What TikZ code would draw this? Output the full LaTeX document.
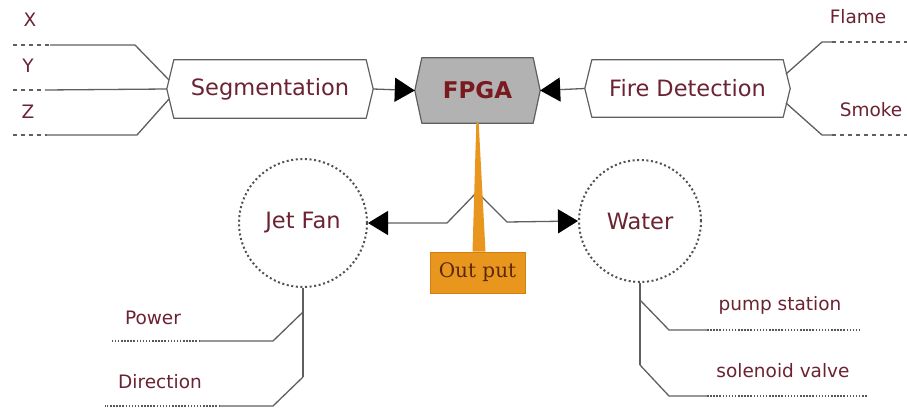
\documentclass[tikz,border=0pt]{standalone}
\usepackage{fontspec}
\setmainfont{DejaVu Sans}
\newfontfamily\outfont{DejaVu Serif}
\usetikzlibrary{arrows.meta}
\definecolor{txt}{HTML}{6B2232}
\definecolor{fpgatxt}{HTML}{7A1A1E}
\definecolor{ln}{HTML}{5F5F5F}
\definecolor{orng}{HTML}{E8961E}
\definecolor{orngd}{HTML}{D0800E}
\definecolor{outtxt}{HTML}{5A2A0A}
\begin{document}
\begin{tikzpicture}[x=1pt,y=-1pt,
  lbl/.style={text=txt,font=\fontsize{18.5}{22}\selectfont,inner sep=0pt},
  big/.style={text=txt,font=\fontsize{22.5}{26}\selectfont,inner sep=0pt},
  hexbox/.style={draw=none,inner sep=0pt},
  hexline/.style={draw=ln,line width=1.2pt,line join=round},
  wire/.style={draw=ln,line width=1.3pt},
  dashwire/.style={draw=ln,line width=1.3pt,dash pattern=on 4pt off 4pt},
  dotwire/.style={draw=ln!90!black,line width=1.5pt,dash pattern=on 1.5pt off 1.6pt},
  circ/.style={circle,draw=ln!85!black,line width=2pt,dash pattern=on 2pt off 2.6pt,inner sep=0pt},
  arr/.style={wire,-{Triangle[length=20pt,width=24pt,black]}}
]
\useasboundingbox (0,0) rectangle (907,410);
% main boxes
\node[hexbox,minimum width=206pt,minimum height=58pt] (seg) at (270,89) {};
\node[hexbox,minimum width=125pt,minimum height=65pt] (fpga) at (477.5,90.5) {};
\node[hexbox,minimum width=205pt,minimum height=57pt] (fire) at (687.5,88.5) {};
\draw[hexline] ([xshift=7pt]seg.north west) -- ([xshift=-7pt]seg.north east) -- (seg.east) -- ([xshift=-7pt]seg.south east) -- ([xshift=7pt]seg.south west) -- (seg.west) -- cycle;
\draw[hexline,fill=black!30] ([xshift=7pt]fpga.north west) -- ([xshift=-7pt]fpga.north east) -- (fpga.east) -- ([xshift=-7pt]fpga.south east) -- ([xshift=7pt]fpga.south west) -- (fpga.west) -- cycle;
\draw[hexline] ([xshift=7pt]fire.north west) -- ([xshift=-7pt]fire.north east) -- (fire.east) -- ([xshift=-7pt]fire.south east) -- ([xshift=7pt]fire.south west) -- (fire.west) -- cycle;
\node[big] at (seg.center) {Segmentation};
\node[big] at (fire.center) {Fire Detection};
\node[text=fpgatxt,font=\fontsize{23}{26}\selectfont\bfseries,inner sep=0pt] at (fpga.center) {FPGA};
% arrows to FPGA
\draw[arr] (seg.east) -- (fpga.west);
\draw[arr] (fire.west) -- (fpga.east);
% inputs left
\node[lbl] (lx) at (30,20) {X};
\node[lbl] (ly) at (28,66) {Y};
\node[lbl] (lz) at (28,112) {Z};
\coordinate (x0) at (13,45); \coordinate (x1) at (50,45); \coordinate (x2) at (135,45); \coordinate (x3) at (169,80);
\coordinate (y0) at (13,90); \coordinate (y1) at (45,90);
\coordinate (z0) at (13,135); \coordinate (z1) at (47,135); \coordinate (z2) at (137,135); \coordinate (z3) at (169,99);
\draw[dashwire] (x0) -- (x1); \draw[wire] (x1) -- (x2) -- (x3);
\draw[dashwire] (y0) -- (y1); \draw[wire] (y1) -- (seg.west);
\draw[dashwire] (z0) -- (z1); \draw[wire] (z1) -- (z2) -- (z3);
% inputs right
\node[lbl] (lf) at (858,17) {Flame};
\node[lbl] (ls) at (871,110) {Smoke};
\coordinate (f0) at (786,74); \coordinate (f1) at (822,42); \coordinate (f2) at (832,42); \coordinate (f3) at (907,42);
\coordinate (s0) at (786,103); \coordinate (s1) at (822,135); \coordinate (s2) at (832,135); \coordinate (s3) at (907,135);
\draw[wire] (f0) -- (f1) -- (f2); \draw[dashwire] (f2) -- (f3);
\draw[wire] (s0) -- (s1) -- (s2); \draw[dashwire] (s2) -- (s3);
% circles
\node[circ,minimum size=128pt] (jet) at (303,223) {};
\node[circ,minimum size=122pt] (water) at (640,221) {};
\node[big] at (jet.center) {Jet Fan};
\node[big] at (water.center) {Water};
% output branches
\coordinate (o0) at (477,192);
\coordinate (ol) at (447,223);
\coordinate (or) at (507,222);
\draw[arr] (o0) -- (ol) -- (jet.east);
\draw[arr] (o0) -- (or) -- (water.west);
% output callout
\node[fill=orng,draw=orngd,line width=0.8pt,minimum width=95pt,minimum height=41pt,inner sep=0pt,text=outtxt,font=\outfont\fontsize{20}{23}\selectfont] (out) at (477.5,272.5) {Out put};
\fill[orng] ([xshift=-1.2pt]fpga.south) -- ([xshift=-5pt]out.north) -- ([xshift=8pt]out.north) -- ([xshift=1.2pt]fpga.south) -- cycle;
% jet fan children
\coordinate (jb) at (303,377);
\coordinate (jp) at (303,312);
\coordinate (p1) at (273,341); \coordinate (p2) at (200,341); \coordinate (p3) at (112,341);
\coordinate (d1) at (273,406); \coordinate (d2) at (220,406); \coordinate (d3) at (105,406);
\draw[wire] (jet.south) -- (jb);
\draw[wire] (jp) -- (p1) -- (p2); \draw[dotwire] (p2) -- (p3);
\draw[wire] (jb) -- (d1) -- (d2); \draw[dotwire] (d2) -- (d3);
\node[lbl] (lp) at (153,318) {Power};
\node[lbl] (ld) at (160,382) {Direction};
% water children
\coordinate (wb) at (640,365);
\coordinate (wp) at (640,300);
\coordinate (q1) at (669,330); \coordinate (q2) at (707,330); \coordinate (q3) at (862,330);
\coordinate (r1) at (669,396); \coordinate (r2) at (707,396); \coordinate (r3) at (868,396);
\draw[wire] (water.south) -- (wb);
\draw[wire] (wp) -- (q1) -- (q2); \draw[dotwire] (q2) -- (q3);
\draw[wire] (wb) -- (r1) -- (r2); \draw[dotwire] (r2) -- (r3);
\node[lbl] (lps) at (780,305) {pump station};
\node[lbl] (lsv) at (783,371) {solenoid valve};
\end{tikzpicture}
\end{document}
